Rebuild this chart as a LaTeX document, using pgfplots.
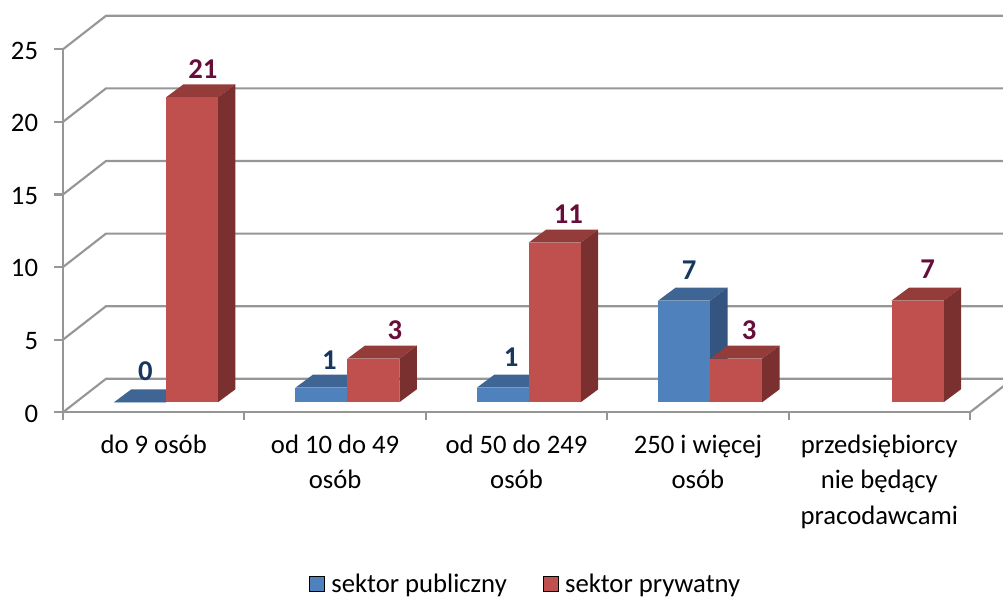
\documentclass[border=0pt]{standalone}
\usepackage{fontspec}
\setmainfont{Carlito}
\usepackage{pgfplots}
\pgfplotsset{compat=1.18}
\usepackage{pgfplotstable}

% 1 px of the reference = 0.75pt
\definecolor{gridc}{HTML}{969696}
\definecolor{bluef}{HTML}{4F81BD}
\definecolor{bluet}{HTML}{3E6594}
\definecolor{blues}{HTML}{335580}
\definecolor{redf}{HTML}{C0504D}
\definecolor{redt}{HTML}{933C3A}
\definecolor{reds}{HTML}{7A302F}
\definecolor{bluel}{HTML}{17375E}
\definecolor{redl}{HTML}{660D3A}

% one 3D bar: origin at the middle of the front top edge, height from the data value
\newcommand\boxmark[4]{%
  \pgfdeclareplotmark{#1}{%
    \pgfmathsetlengthmacro\barh{10.89pt*\barval}%
    \pgfmathsetlengthmacro\barb{9.75pt-10.89pt*\barval}%
    \pgfsetfillcolor{#3}%
    \pgfpathmoveto{\pgfqpoint{-19.5pt}{0pt}}%
    \pgfpathlineto{\pgfqpoint{19.5pt}{0pt}}%
    \pgfpathlineto{\pgfqpoint{32.6pt}{9.75pt}}%
    \pgfpathlineto{\pgfqpoint{-6.4pt}{9.75pt}}%
    \pgfpathclose\pgfusepathqfill
    \pgfsetfillcolor{#4}%
    \pgfpathmoveto{\pgfqpoint{19.5pt}{0pt}}%
    \pgfpathlineto{\pgfqpoint{32.6pt}{9.75pt}}%
    \pgfpathlineto{\pgfqpoint{32.6pt}{\barb}}%
    \pgfpathlineto{\pgfqpoint{19.5pt}{-\barh}}%
    \pgfpathclose\pgfusepathqfill
    \pgfsetfillcolor{#2}%
    \pgfpathrectanglecorners{\pgfqpoint{-19.5pt}{0pt}}{\pgfqpoint{19.5pt}{-\barh}}%
    \pgfusepathqfill
  }%
}
\boxmark{boxblue}{bluef}{bluet}{blues}
\boxmark{boxred}{redf}{redt}{reds}

\pgfplotstableread{
x   y  dx   dy
0.5 0  5.5  30.6
1.5 1  8.0  27.8
2.5 1  8.4  31.0
3.5 7  5.0  30.0
}\publiczny
\pgfplotstableread{
x   y  dx   dy
0.5 21 11.0 28.4
1.5 3  21.6 28.7
2.5 11 13.6 28.6
3.5 3  13.0 28.7
4.5 7  10.0 31.7
}\prywatny

\pgfplotsset{
  box3d/.style={
    forget plot, only marks, scatter, scatter src=y, mark=#1,
    scatter/@pre marker code/.code={\scope[]},
    scatter/@post marker code/.code={\endscope},
    visualization depends on={\thisrow{y} \as \barval},
    visualization depends on={\thisrow{dx} \as \ldx},
    visualization depends on={\thisrow{dy} \as \ldy},
    nodes near coords,
  },
}

\begin{document}
\begin{tikzpicture}
\path[use as bounding box, clip] (-47.25pt,-139.3pt) rectangle (705pt,309.2pt);
\begin{axis}[
    at={(0,0)}, anchor=south west,
    x=136.05pt, y=10.89pt,
    xmin=0, xmax=5, ymin=0, ymax=25,
    clip=false,
    axis lines=left,
    axis line style={-, draw=gridc, line width=1.6pt},
    tick align=outside,
    ytick={0,5,...,25},
    xtick={0.5,1.5,2.5,3.5,4.5},
    minor xtick={0,1,...,5},
    xticklabels={do 9 osób, od 10 do 49\\osób, od 50 do 249\\osób, 250 i więcej\\osób, przedsiębiorcy\\nie będący\\pracodawcami},
    xtick style={draw=none},
    minor x tick style={draw=gridc, line width=1.6pt},
    ytick style={draw=gridc, line width=1.6pt},
    major tick length=6.5pt,
    minor tick length=6pt,
    /pgf/number format/assume math mode=true,
    tick label style={font=\fontsize{20}{26.5}\selectfont},
    x tick label style={align=center, anchor=north, yshift=-7pt},
    y tick label style={xshift=-8.7pt, yshift=-1pt},
    nodes near coords style={font=\fontsize{21.5}{24}\bfseries\selectfont, anchor=center, inner sep=0pt,
      xshift={\ldx*0.75pt}, yshift={\ldy*0.75pt}},
    legend style={at={(rel axis cs:0.2668,-0.429)}, anchor=north west, draw=none, fill=none,
      legend columns=2, font=\fontsize{20}{22}\selectfont,
      /tikz/every even column/.append style={column sep=25pt}},
    legend cell align=left,
    legend image code/.code={\fill[#1] (0pt,-5.6pt) rectangle (11.25pt,5.6pt); \path (14.25pt,0pt);},
]
% walls and floor
\pgfplotsinvokeforeach{0,5,10,15,20,25}{
  \draw[gridc, line width=1.6pt] (axis cs:0,#1) -- ++(32.25pt,25.1pt) -- ++(700pt,0pt);
}
\draw[gridc, line width=1.6pt] (axis cs:5,0) -- ++(32.25pt,25.1pt);

\addlegendimage{fill=bluef}
\addlegendentry{sektor publiczny}
\addlegendimage{fill=redf}
\addlegendentry{sektor prywatny}

\addplot[box3d=boxblue, xshift=-10.3pt, yshift=7.5pt,
  nodes near coords style={text=bluel}] table[x=x, y=y] {\publiczny};
\addplot[box3d=boxred, xshift=28.7pt, yshift=7.5pt,
  nodes near coords style={text=redl}] table[x=x, y=y] {\prywatny};
\end{axis}
\end{tikzpicture}
\end{document}
